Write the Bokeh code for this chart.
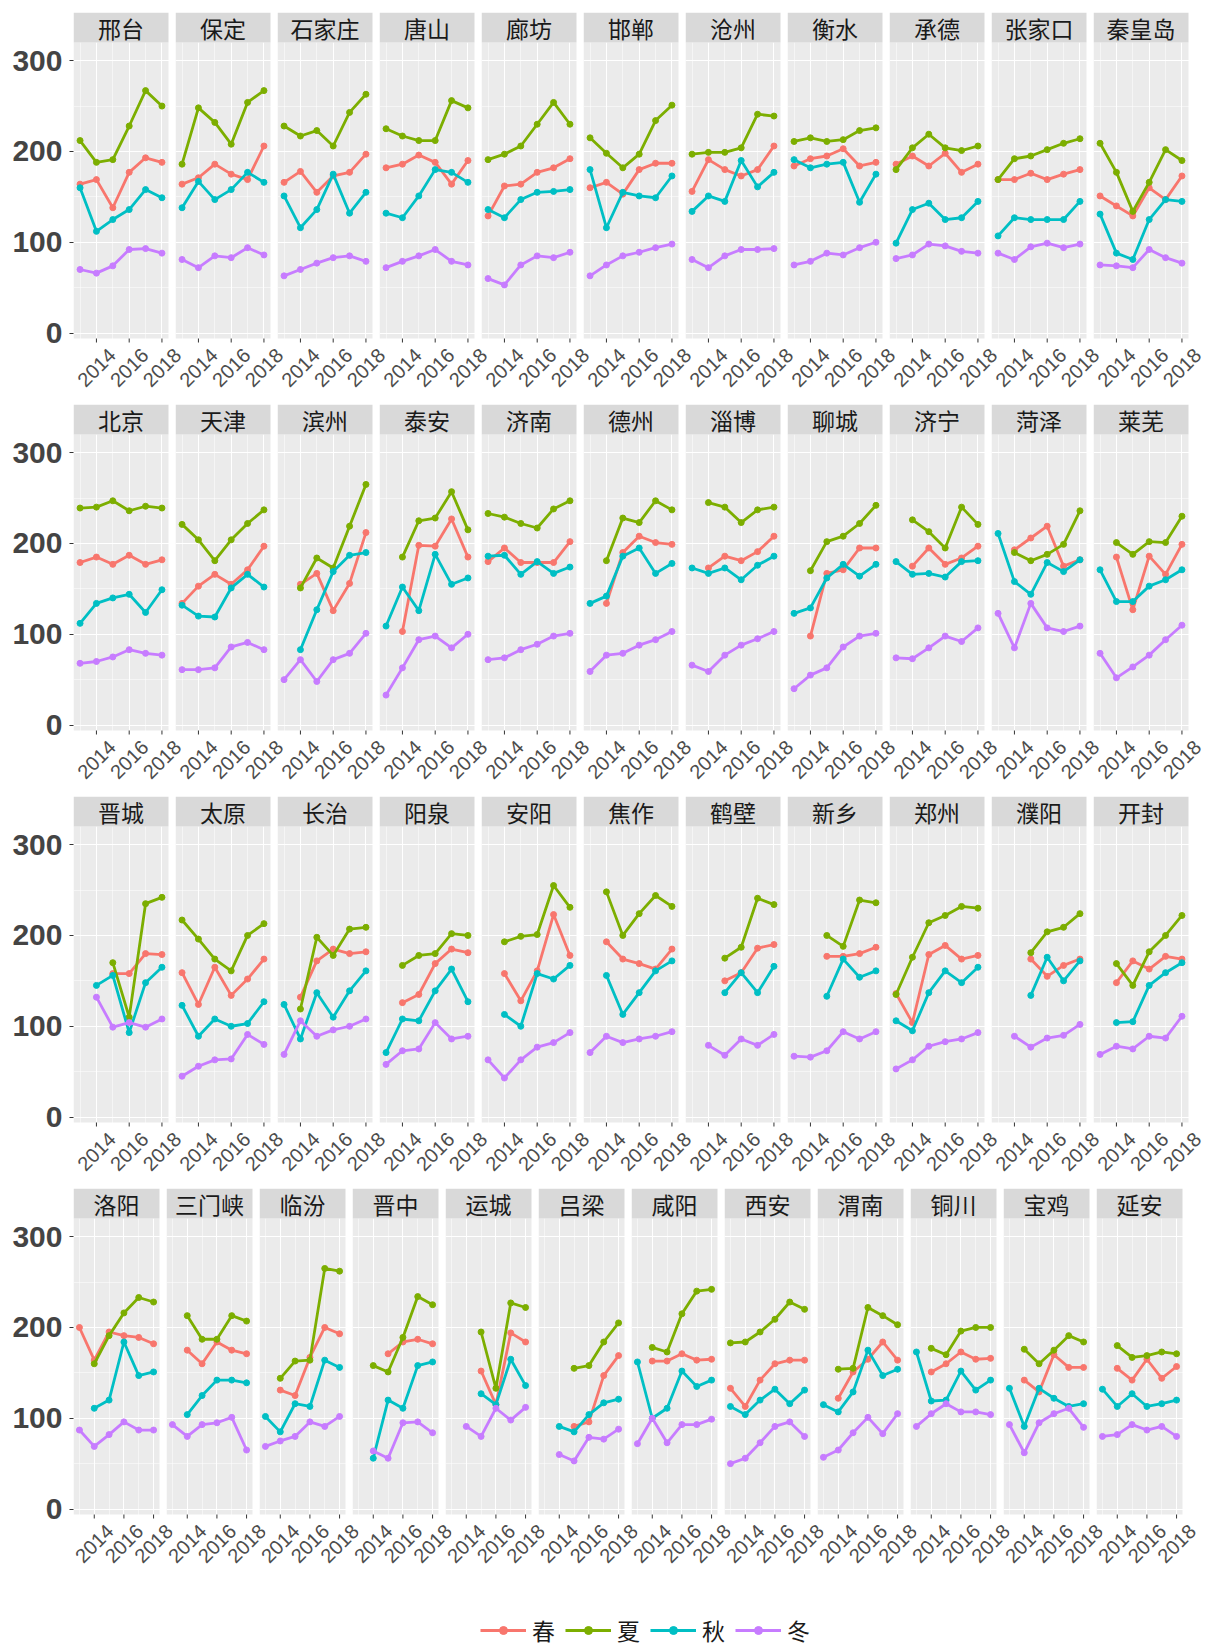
import math
from bokeh.plotting import figure
from bokeh.models import Range1d, FixedTicker, Legend, LegendItem, ColumnDataSource
from bokeh.layouts import column, row
from bokeh.embed import file_html
from bokeh.resources import INLINE
from bokeh.core.properties import value

N = None
YEARS = [2013, 2014, 2015, 2016, 2017, 2018]
X_TICKS = [2014, 2016, 2018]
X_TICK_LABELS = ["2014", "2016", "2018"]
Y_TICKS = [0, 100, 200, 300]

ROW1 = ["邢台", "保定", "石家庄", "唐山", "廊坊", "邯郸", "沧州", "衡水", "承德", "张家口", "秦皇岛"]
ROW2 = ["北京", "天津", "滨州", "泰安", "济南", "德州", "淄博", "聊城", "济宁", "菏泽", "莱芜"]
ROW3 = ["晋城", "太原", "长治", "阳泉", "安阳", "焦作", "鹤壁", "新乡", "郑州", "濮阳", "开封"]
ROW4 = ["洛阳", "三门峡", "临汾", "晋中", "运城", "吕梁", "咸阳", "西安", "渭南", "铜川", "宝鸡", "延安"]

SEASONS = ["春", "夏", "秋", "冬"]
COLORS = ["#F8766D", "#7CAE00", "#00BFC4", "#C77CFF"]

SPRING = {
    "邢台": [164, 169, 138, 177, 193, 188], "保定": [164, 171, 186, 175, 169, 206],
    "石家庄": [166, 178, 155, 173, 177, 197], "唐山": [182, 186, 196, 188, 164, 190],
    "廊坊": [129, 162, 164, 177, 182, 192], "邯郸": [160, 166, 153, 180, 187, 187],
    "沧州": [156, 191, 180, 173, 180, 206], "衡水": [184, 192, 195, 203, 184, 188],
    "承德": [186, 195, 184, 198, 177, 186], "张家口": [169, 169, 176, 169, 175, 180],
    "秦皇岛": [151, 140, 129, 160, 147, 173],
    "北京": [179, 185, 177, 187, 177, 182], "天津": [134, 153, 166, 155, 171, 197],
    "滨州": [N, 155, 167, 126, 156, 212], "泰安": [N, 103, 198, 197, 227, 185],
    "济南": [180, 195, 179, 179, 179, 202], "德州": [N, 134, 190, 208, 201, 199],
    "淄博": [N, 173, 186, 181, 191, 208], "聊城": [N, 98, 167, 171, 195, 195],
    "济宁": [N, 175, 195, 177, 184, 197], "菏泽": [N, 193, 206, 219, 175, 182],
    "莱芜": [N, 185, 127, 186, 166, 199],
    "晋城": [N, N, 158, 158, 180, 179], "太原": [159, 124, 165, 134, 152, 174],
    "长治": [N, 132, 172, 185, 180, 182], "阳泉": [N, 126, 135, 169, 185, 181],
    "安阳": [N, 158, 128, 161, 223, 178], "焦作": [N, 193, 174, 169, 163, 185],
    "鹤壁": [N, N, 150, 159, 186, 190], "新乡": [N, N, 177, 177, 180, 187],
    "郑州": [136, 104, 179, 189, 174, 178], "濮阳": [N, N, 174, 155, 167, 174],
    "开封": [N, 148, 172, 163, 177, 174],
    "洛阳": [200, 164, 195, 191, 189, 182], "三门峡": [N, 175, 160, 184, 175, 171],
    "临汾": [N, 131, 125, 167, 200, 193], "晋中": [N, N, 171, 184, 187, 182],
    "运城": [N, N, 152, 115, 194, 184], "吕梁": [N, N, 91, 96, 147, 169],
    "咸阳": [N, 163, 163, 171, 164, 165], "西安": [133, 113, 142, 160, 164, 164],
    "渭南": [N, 122, 151, 165, 184, 164], "铜川": [N, 151, 160, 173, 165, 166],
    "宝鸡": [N, 142, 129, 170, 156, 156], "延安": [N, 155, 142, 165, 144, 157],
}

SUMMER = {
    "邢台": [212, 188, 191, 228, 267, 250], "保定": [186, 248, 232, 208, 254, 267],
    "石家庄": [228, 217, 223, 206, 243, 263], "唐山": [225, 217, 212, 212, 256, 248],
    "廊坊": [191, 197, 206, 230, 254, 230], "邯郸": [215, 198, 182, 197, 234, 251],
    "沧州": [197, 199, 199, 204, 241, 239], "衡水": [211, 215, 211, 213, 223, 226],
    "承德": [180, 204, 219, 204, 201, 206], "张家口": [169, 192, 195, 202, 209, 214],
    "秦皇岛": [209, 177, 134, 166, 202, 190],
    "北京": [239, 240, 247, 236, 241, 239], "天津": [221, 204, 181, 204, 222, 237],
    "滨州": [N, 151, 184, 173, 219, 265], "泰安": [N, 185, 225, 228, 257, 215],
    "济南": [233, 229, 222, 217, 238, 247], "德州": [N, 181, 228, 223, 247, 237],
    "淄博": [N, 245, 240, 223, 237, 240], "聊城": [N, 170, 202, 208, 222, 242],
    "济宁": [N, 226, 213, 195, 240, 221], "菏泽": [N, 190, 181, 188, 199, 236],
    "莱芜": [N, 201, 188, 202, 201, 230],
    "晋城": [N, N, 170, 110, 235, 242], "太原": [217, 196, 174, 161, 200, 213],
    "长治": [N, 119, 198, 178, 207, 209], "阳泉": [N, 167, 178, 180, 202, 200],
    "安阳": [N, 193, 199, 201, 255, 231], "焦作": [N, 248, 200, 224, 244, 232],
    "鹤壁": [N, N, 175, 187, 241, 234], "新乡": [N, N, 200, 188, 239, 236],
    "郑州": [135, 176, 214, 222, 232, 230], "濮阳": [N, N, 181, 204, 209, 224],
    "开封": [N, 169, 145, 182, 200, 222],
    "洛阳": [N, 160, 191, 216, 233, 228], "三门峡": [N, 213, 187, 187, 213, 207],
    "临汾": [N, 144, 163, 164, 265, 262], "晋中": [N, 158, 151, 189, 234, 225],
    "运城": [N, N, 195, 133, 227, 222], "吕梁": [N, N, 155, 158, 184, 205],
    "咸阳": [N, 178, 173, 215, 240, 242], "西安": [183, 184, 195, 209, 228, 220],
    "渭南": [N, 154, 155, 222, 213, 203], "铜川": [N, 177, 170, 196, 200, 200],
    "宝鸡": [N, 176, 160, 175, 191, 184], "延安": [N, 180, 167, 169, 173, 171],
}

AUTUMN = {
    "邢台": [160, 112, 125, 136, 158, 149], "保定": [138, 167, 147, 158, 177, 166],
    "石家庄": [151, 116, 136, 175, 132, 155], "唐山": [132, 127, 151, 180, 177, 166],
    "廊坊": [136, 127, 147, 155, 156, 158], "邯郸": [180, 116, 155, 151, 149, 173],
    "沧州": [134, 151, 145, 190, 161, 177], "衡水": [191, 182, 186, 188, 144, 175],
    "承德": [99, 136, 143, 125, 127, 145], "张家口": [107, 127, 125, 125, 125, 145],
    "秦皇岛": [131, 88, 81, 125, 147, 145],
    "北京": [112, 134, 140, 144, 124, 149], "天津": [132, 120, 119, 151, 166, 152],
    "滨州": [N, 83, 127, 169, 187, 190], "泰安": [109, 152, 126, 188, 155, 162],
    "济南": [186, 187, 166, 180, 167, 174], "德州": [134, 142, 186, 195, 167, 178],
    "淄博": [173, 167, 173, 160, 176, 186], "聊城": [123, 129, 162, 177, 164, 177],
    "济宁": [180, 166, 167, 163, 180, 181], "菏泽": [211, 158, 144, 179, 169, 182],
    "莱芜": [171, 136, 136, 153, 160, 171],
    "晋城": [N, 145, 156, 93, 148, 165], "太原": [123, 89, 108, 100, 103, 127],
    "长治": [124, 86, 137, 110, 139, 161], "阳泉": [71, 108, 106, 139, 163, 127],
    "安阳": [N, 113, 100, 158, 152, 167], "焦作": [N, 156, 113, 137, 161, 172],
    "鹤壁": [N, N, 137, 159, 137, 166], "新乡": [N, N, 133, 174, 154, 161],
    "郑州": [106, 95, 137, 161, 148, 165], "濮阳": [N, N, 134, 176, 150, 172],
    "开封": [N, 104, 105, 145, 159, 170],
    "洛阳": [N, 111, 120, 184, 147, 151], "三门峡": [N, 104, 125, 142, 142, 139],
    "临汾": [102, 85, 116, 113, 164, 156], "晋中": [N, 56, 120, 111, 158, 162],
    "运城": [N, N, 127, 115, 165, 136], "吕梁": [N, 91, 85, 104, 117, 121],
    "咸阳": [162, 100, 111, 152, 135, 142], "西安": [113, 104, 120, 132, 116, 131],
    "渭南": [115, 107, 129, 175, 147, 154], "铜川": [173, 119, 120, 152, 131, 142],
    "宝鸡": [133, 91, 133, 122, 113, 116], "延安": [132, 113, 127, 113, 116, 120],
}

WINTER = {
    "邢台": [70, 66, 74, 92, 93, 88], "保定": [81, 72, 85, 83, 94, 86],
    "石家庄": [63, 70, 77, 83, 85, 79], "唐山": [72, 79, 85, 92, 79, 75],
    "廊坊": [60, 53, 75, 85, 83, 89], "邯郸": [63, 75, 85, 89, 94, 98],
    "沧州": [81, 72, 85, 92, 92, 93], "衡水": [75, 79, 88, 86, 94, 100],
    "承德": [82, 86, 98, 96, 90, 88], "张家口": [88, 81, 95, 99, 94, 98],
    "秦皇岛": [75, 74, 72, 92, 83, 77],
    "北京": [68, 70, 75, 83, 79, 77], "天津": [61, 61, 63, 86, 91, 83],
    "滨州": [50, 72, 48, 72, 79, 101], "泰安": [33, 63, 94, 98, 85, 100],
    "济南": [72, 74, 83, 89, 98, 101], "德州": [59, 77, 79, 88, 94, 103],
    "淄博": [66, 59, 77, 88, 95, 103], "聊城": [40, 55, 63, 86, 98, 101],
    "济宁": [74, 73, 85, 98, 92, 107], "菏泽": [123, 85, 134, 107, 103, 109],
    "莱芜": [79, 52, 64, 77, 94, 110],
    "晋城": [N, 132, 99, 104, 99, 108], "太原": [45, 56, 63, 64, 91, 80],
    "长治": [69, 106, 89, 96, 100, 108], "阳泉": [58, 73, 75, 104, 86, 89],
    "安阳": [63, 43, 63, 77, 82, 93], "焦作": [71, 89, 82, 86, 89, 94],
    "鹤壁": [N, 79, 68, 86, 79, 91], "新乡": [67, 66, 73, 94, 86, 94],
    "郑州": [53, 63, 78, 83, 86, 93], "濮阳": [N, 89, 77, 87, 90, 102],
    "开封": [69, 78, 75, 89, 87, 111],
    "洛阳": [87, 69, 82, 96, 87, 87], "三门峡": [93, 80, 93, 95, 101, 65],
    "临汾": [69, 75, 80, 96, 91, 102], "晋中": [N, 64, 56, 95, 96, 84],
    "运城": [N, 91, 80, 111, 98, 112], "吕梁": [N, 60, 53, 79, 77, 88],
    "咸阳": [72, 100, 73, 93, 93, 99], "西安": [50, 56, 73, 91, 96, 80],
    "渭南": [57, 65, 84, 101, 83, 105], "铜川": [91, 105, 116, 107, 107, 104],
    "宝鸡": [93, 62, 95, 105, 111, 90], "延安": [80, 82, 93, 87, 91, 80],
}

SERIES = [SPRING, SUMMER, AUTUMN, WINTER]

# ---- layout constants (pixels / axis limits, not data) ----
STRIP_H = 30      # facet strip height
PANEL_H = 296     # grey panel height
LABEL_H = 59      # space under the panel for the rotated year labels
FRAME_H = STRIP_H + PANEL_H + LABEL_H
Y0, Y1 = -6, 320
PX = PANEL_H / (Y1 - Y0)
Y_START = Y0 - LABEL_H / PX
Y_END = Y1 + STRIP_H / PX
X0, X1 = 2012.6, 2018.4
EXT = 18          # room right of a panel for its last (overhanging) year label
LEFT = 73
GAP = 7
TOP_FIRST = 12
TOP = 7
LABEL_DROP = 29   # px from panel bottom to the centre of a year label
TICK_LEN = 4
PAGE_H = 1648
FONT_CJK = "Noto Sans CJK SC"
FONT_LAT = "Liberation Sans"


def clean(vals):
    return [float("nan") if v is None else v for v in vals]


def make_panel(name, fw, first, last, top, ext_last):
    ext = ext_last if last else EXT
    x_end = X1 + ext * (X1 - X0) / fw
    p = figure(frame_width=fw + ext, frame_height=FRAME_H,
               x_range=Range1d(X0, x_end), y_range=Range1d(Y_START, Y_END),
               output_backend="svg", toolbar_location=None,
               min_border_left=LEFT if first else GAP,
               min_border_right=0,
               min_border_top=top, min_border_bottom=0)
    if not first:
        p.margin = (0, 0, 0, -EXT)   # let the previous panel's last label overhang
    p.extra_y_ranges = {"strip": Range1d(1 - FRAME_H / STRIP_H, 1)}
    p.background_fill_alpha = 0
    p.border_fill_alpha = 0
    p.outline_line_color = None

    # grey panel (drawn beneath the grid)
    p.quad(left=[X0], right=[X1], bottom=[Y0], top=[Y1],
           fill_color="#EBEBEB", line_color=None, level="image")

    xt = FixedTicker(ticks=X_TICKS, minor_ticks=[2013, 2015, 2017])
    yt = FixedTicker(ticks=Y_TICKS, minor_ticks=[50, 150, 250])
    p.xaxis.ticker = xt
    p.yaxis.ticker = yt
    p.xgrid.ticker = xt
    p.ygrid.ticker = yt
    for g in (p.xgrid, p.ygrid):
        g.grid_line_color = "white"
        g.grid_line_width = 1.1
        g.minor_grid_line_color = "white"
        g.minor_grid_line_width = 0.5
    p.xaxis.visible = False

    ay = p.yaxis[0]
    if first:
        ay.axis_line_color = None
        ay.major_tick_line_color = "#333333"
        ay.major_tick_in = 0
        ay.major_tick_out = TICK_LEN
        ay.minor_tick_line_color = None
        ay.major_label_text_font = FONT_LAT
        ay.major_label_text_font_style = "bold"
        ay.major_label_text_font_size = "30px"
        ay.major_label_text_color = "#444444"
        ay.major_label_standoff = 7
    else:
        ay.visible = False

    # x ticks and rotated year labels centred on each tick
    n = len(X_TICKS)
    p.segment(x0=X_TICKS, x1=X_TICKS, y0=[Y0] * n, y1=[Y0 - TICK_LEN / PX] * n,
              line_color="#333333", line_width=1)
    p.text(x=X_TICKS, y=[Y0 - LABEL_DROP / PX] * n, text=X_TICK_LABELS,
           angle=math.pi / 4, text_align="center", text_baseline="middle",
           text_font=value(FONT_LAT), text_font_size="20px", text_color="#4D4D4D")

    for data, color in zip(SERIES, COLORS):
        src = ColumnDataSource(dict(x=YEARS, y=clean(data[name])))
        p.line("x", "y", source=src, line_color=color, line_width=2.8)
        p.scatter("x", "y", source=src, color=color, size=6)

    # facet strip
    p.quad(left=[X0], right=[X1], bottom=[0], top=[1], y_range_name="strip",
           fill_color="#D9D9D9", line_color=None)
    p.text(x=[(X0 + X1) / 2], y=[0.5], text=[name], y_range_name="strip",
           text_align="center", text_baseline="middle",
           text_font=value(FONT_CJK), text_font_size="23px", text_color="#1A1A1A")
    return p


rows = []
for r, (names, fw, ext_last) in enumerate([(ROW1, 95, 16), (ROW2, 95, 16),
                                           (ROW3, 95, 16), (ROW4, 86, 22)]):
    top = TOP_FIRST if r == 0 else TOP
    figs = [make_panel(n, fw, i == 0, i == len(names) - 1, top, ext_last)
            for i, n in enumerate(names)]
    rows.append(row(*figs))

rows_h = TOP_FIRST + FRAME_H + 3 * (TOP + FRAME_H)

# legend figure (its renderers hold real series but lie outside the visible range)
lg = figure(width=1189, height=PAGE_H - rows_h, output_backend="svg", toolbar_location=None,
            x_axis_location=None, y_axis_location=None,
            x_range=Range1d(0, 1), y_range=Range1d(0, 1), min_border=0)
lg.grid.visible = False
lg.outline_line_color = None
lg.background_fill_color = "white"
items = []
for label, color, data in zip(SEASONS, COLORS, SERIES):
    src = ColumnDataSource(dict(x=YEARS, y=clean(data[ROW1[0]])))
    r1 = lg.line("x", "y", source=src, line_color=color, line_width=2.8)
    r2 = lg.scatter("x", "y", source=src, color=color, size=6)
    items.append(LegendItem(label=label, renderers=[r1, r2]))
legend = Legend(items=items, orientation="horizontal", location=(480, 1),
                glyph_width=46, glyph_height=20, label_standoff=6, spacing=10,
                padding=0, margin=0, border_line_color=None,
                background_fill_alpha=0, label_text_font=FONT_CJK,
                label_text_font_size="23px", label_text_color="#1A1A1A")
lg.add_layout(legend)

layout = column(*rows, lg)
open("out.html", "w").write(file_html(layout, INLINE))
